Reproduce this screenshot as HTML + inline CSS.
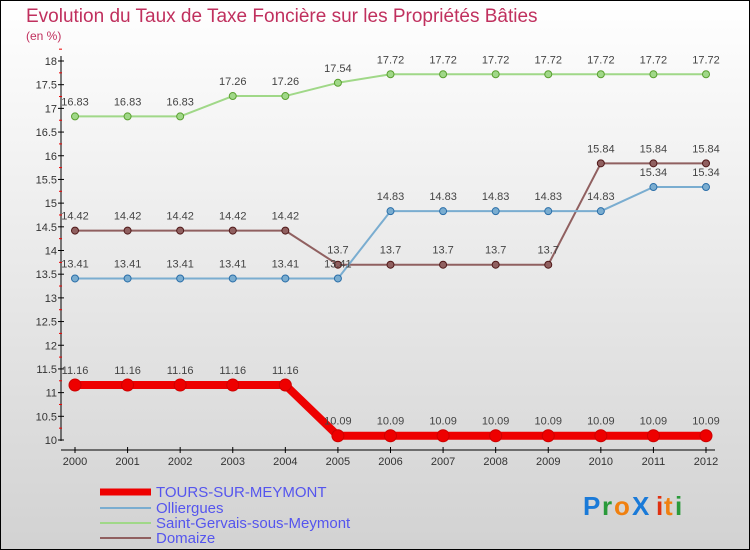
<!DOCTYPE html>
<html><head><meta charset="utf-8">
<style>
body{margin:0;width:750px;height:550px;overflow:hidden;font-family:"Liberation Sans",sans-serif}
svg{display:block}
</style></head>
<body>
<svg id="chart" width="750" height="550" xmlns="http://www.w3.org/2000/svg">
<defs><linearGradient id="bg" x1="0" y1="0" x2="0" y2="1"><stop offset="0" stop-color="#ffffff"/><stop offset="1" stop-color="#d2d2d2"/></linearGradient></defs>
<rect x="0.5" y="0.5" width="749" height="549" fill="url(#bg)" stroke="#000"/>
<text x="26" y="22" font-size="19" fill="#c0305e">Evolution du Taux de Taxe Foncière sur les Propriétés Bâties</text>
<text x="26" y="40" font-size="12" fill="#c0305e">(en %)</text>
<g id="axes"></g><g id="series"></g>
<g font-size="15" fill="#5555ee">
<line x1="100" y1="492" x2="151" y2="492" stroke="#ee0000" stroke-width="7"/><text x="156" y="497">TOURS-SUR-MEYMONT</text>
<line x1="100" y1="508" x2="151" y2="508" stroke="#7aadd0" stroke-width="2"/><text x="156" y="513">Olliergues</text>
<line x1="100" y1="523" x2="151" y2="523" stroke="#a0d888" stroke-width="2"/><text x="156" y="528">Saint-Gervais-sous-Meymont</text>
<line x1="100" y1="538" x2="151" y2="538" stroke="#906060" stroke-width="2"/><text x="156" y="543">Domaize</text>
</g>
<g font-size="26" font-weight="bold">
<text x="583" y="515" fill="#1a7ad8">P</text><text x="602" y="515" fill="#2a9a3a">r</text><text x="614" y="515" fill="#f08010">o</text><text x="632" y="515" fill="#1a7ad8">X</text><text x="656" y="515" fill="#e03010">i</text><text x="664" y="515" fill="#f08010">t</text><text x="675" y="515" fill="#2a9a3a">i</text>
</g>
</svg>
<script>
const years=["2000","2001","2002","2003","2004","2005","2006","2007","2008","2009","2010","2011","2012"];
const tours=[11.16,11.16,11.16,11.16,11.16,10.09,10.09,10.09,10.09,10.09,10.09,10.09,10.09];
const olliergues=[13.41,13.41,13.41,13.41,13.41,13.41,14.83,14.83,14.83,14.83,14.83,15.34,15.34];
const saintGervais=[16.83,16.83,16.83,17.26,17.26,17.54,17.72,17.72,17.72,17.72,17.72,17.72,17.72];
const domaize=[14.42,14.42,14.42,14.42,14.42,13.7,13.7,13.7,13.7,13.7,15.84,15.84,15.84];
const yTicks=[10,10.5,11,11.5,12,12.5,13,13.5,14,14.5,15,15.5,16,16.5,17,17.5,18];
const NS="http://www.w3.org/2000/svg";
function X(i){return 75+i*(706-75)/(years.length-1);}
function Y(v){return 440-(v-10)*(440-61)/8;}
function mk(t,a,p){const e=document.createElementNS(NS,t);for(const k in a)e.setAttribute(k,a[k]);p.appendChild(e);return e;}
const ax=document.getElementById('axes');
mk('line',{x1:61,y1:56,x2:61,y2:441,stroke:'#000'},ax);
mk('line',{x1:61,y1:450,x2:715,y2:450,stroke:'#000'},ax);
yTicks.forEach(v=>{
  mk('line',{x1:58,y1:Y(v),x2:64,y2:Y(v),stroke:'#000'},ax);
  mk('line',{x1:59,y1:Y(v+0.25),x2:62,y2:Y(v+0.25),stroke:'#e00'},ax);
  const t=mk('text',{x:57,y:Y(v)+4,'text-anchor':'end','font-size':11,fill:'#333'},ax);
  
  
  t.textContent=String(v);
});
years.forEach((y,i)=>{
  mk('line',{x1:X(i),y1:447,x2:X(i),y2:453,stroke:'#000'},ax);
  const t=mk('text',{x:X(i),y:465,'text-anchor':'middle','font-size':11,fill:'#333'},ax);
  
  
  t.textContent=y;
});
const sg=document.getElementById('series');
function draw(vals,name,color,w,r,dark){
  const g=mk('g',{},sg);
  
  
  mk('polyline',{points:vals.map((v,i)=>X(i)+','+Y(v)).join(' '),fill:'none',stroke:color,'stroke-width':w,'stroke-linejoin':'round'},g);
  vals.forEach((v,i)=>{
    const c=mk('circle',{cx:X(i),cy:Y(v),r:r,fill:color,stroke:dark,'stroke-width':1},g);
    
    
    const t=mk('text',{x:X(i),y:Y(v)-11,'text-anchor':'middle','font-size':11,fill:'#444'},g);
    
    
    t.textContent=String(v);
  });
}
draw(saintGervais,'saint-gervais-series','#a0d888',2,3.5,'#5aa030');
draw(domaize,'domaize-series','#906060',2,3.5,'#501818');
draw(olliergues,'olliergues-series','#7aadd0',2,3.5,'#2a6ea8');
draw(tours,'tours-series','#ee0000',8,6,'#cc0000');
</script>
</body></html>
